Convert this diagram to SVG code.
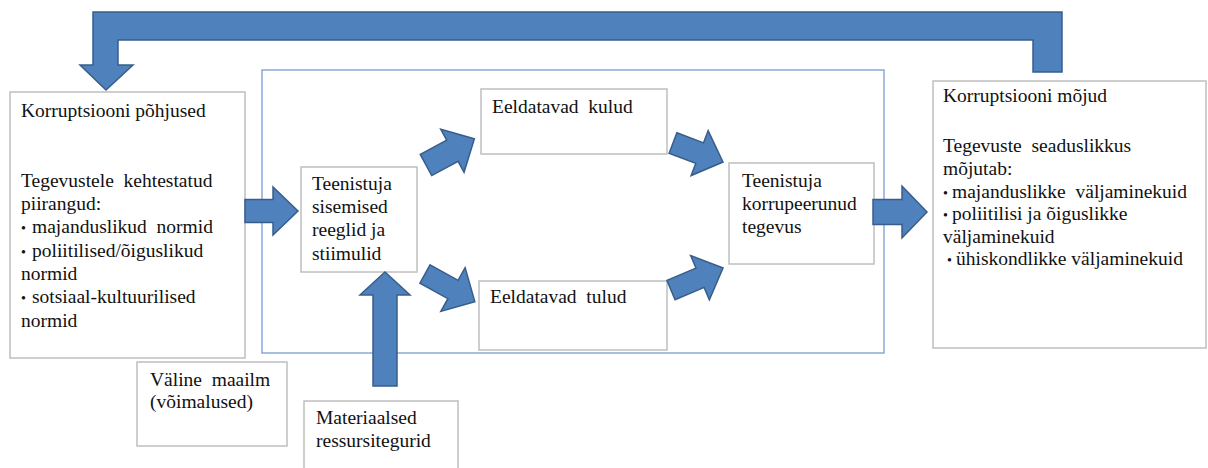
<svg xmlns="http://www.w3.org/2000/svg" width="1208" height="468" viewBox="0 0 1208 468">
<style>
.box{fill:#fff;stroke:#bfbfbf;stroke-width:1.5}
.frame{fill:none;stroke:#7a9bcf;stroke-width:1.3}
.arr{fill:#4f81bd;stroke:#385d8a;stroke-width:1.5;stroke-linejoin:miter}
.t{font-family:'Liberation Serif','Times New Roman',serif;font-size:19.5px;fill:#111;white-space:pre}
.b{font-size:14px}
</style>
<rect x="0" y="0" width="1208" height="468" fill="#fff"/>
<rect class="frame" x="262" y="70" width="622" height="283"/>

<g id="n-pohjused">
<rect class="box" x="10" y="92" width="235" height="266"/>
<text class="t" x="21" y="117">Korruptsiooni põhjused</text>
<text class="t" x="21" y="187">Tegevustele  kehtestatud</text>
<text class="t" x="21" y="210">piirangud:</text>
<text class="t" x="21" y="233"><tspan class="b">•</tspan><tspan x="32">majanduslikud  normid</tspan></text>
<text class="t" x="21" y="257"><tspan class="b">•</tspan><tspan x="32">poliitilised/õiguslikud</tspan></text>
<text class="t" x="21" y="280">normid</text>
<text class="t" x="21" y="303"><tspan class="b">•</tspan><tspan x="32">sotsiaal-kultuurilised</tspan></text>
<text class="t" x="21" y="327">normid</text>
</g>

<g id="n-sisemised">
<rect class="box" x="301" y="167" width="116" height="105"/>
<text class="t" x="312" y="190">Teenistuja</text>
<text class="t" x="312" y="213">sisemised</text>
<text class="t" x="312" y="236">reeglid ja</text>
<text class="t" x="312" y="260">stiimulid</text>
</g>

<g id="n-kulud">
<rect class="box" x="481" y="89" width="186" height="65"/>
<text class="t" x="492" y="113">Eeldatavad  kulud</text>
</g>

<g id="n-tulud">
<rect class="box" x="479" y="281" width="188" height="69"/>
<text class="t" x="490" y="303">Eeldatavad  tulud</text>
</g>

<g id="n-korrupeerunud">
<rect class="box" x="729" y="163" width="145" height="101"/>
<text class="t" x="742" y="187">Teenistuja</text>
<text class="t" x="742" y="210">korrupeerunud</text>
<text class="t" x="742" y="233">tegevus</text>
</g>

<g id="n-mojud">
<rect class="box" x="933" y="81" width="273" height="267"/>
<text class="t" x="943" y="102">Korruptsiooni mõjud</text>
<text class="t" x="943" y="152">Tegevuste  seaduslikkus</text>
<text class="t" x="943" y="175">mõjutab:</text>
<text class="t" x="943" y="198"><tspan class="b">•</tspan><tspan x="952">majanduslikke  väljaminekuid</tspan></text>
<text class="t" x="943" y="220"><tspan class="b">•</tspan><tspan x="952">poliitilisi ja õiguslikke</tspan></text>
<text class="t" x="943" y="243">väljaminekuid</text>
<text class="t" x="947" y="265"><tspan class="b">•</tspan><tspan x="956">ühiskondlikke väljaminekuid</tspan></text>
</g>

<g id="n-valine">
<rect class="box" x="137" y="362" width="150" height="84"/>
<text class="t" x="150" y="386">Väline  maailm</text>
<text class="t" x="150" y="408">(võimalused)</text>
</g>

<g id="n-materiaalsed">
<rect class="box" x="304" y="401" width="154" height="72"/>
<text class="t" x="316" y="424">Materiaalsed</text>
<text class="t" x="316" y="447">ressursitegurid</text>
</g>

<g id="connectors">
<path class="arr" d="M1062,72 L1062,12 L93,12 L93,65 L80,65 L106,90 L133,65 L118,65 L118,40 L1033,40 L1033,72 Z"/>
<path class="arr" transform="translate(245,211)" d="M0,-11.5 L28,-11.5 L28,-24 L53,0 L28,24 L28,11.5 L0,11.5 Z"/>
<path class="arr" transform="translate(873,212)" d="M0,-12.5 L29,-12.5 L29,-26 L54,0 L29,26 L29,12.5 L0,12.5 Z"/>
<path class="arr" transform="translate(385,386) rotate(-90)" d="M0,-12 L91,-12 L91,-25 L114,0 L91,25 L91,12 L0,12 Z"/>
<path class="arr" transform="translate(426,165) rotate(-28.4)" d="M0,-12 L30,-12 L30,-24.5 L55,0 L30,24.5 L30,12 L0,12 Z"/>
<path class="arr" transform="translate(425,274) rotate(29)" d="M0,-10.5 L32,-10.5 L32,-25 L57,0 L32,25 L32,10.5 L0,10.5 Z"/>
<path class="arr" transform="translate(673,143) rotate(20.8)" d="M0,-11 L28.5,-11 L28.5,-24 L53.5,0 L28.5,24 L28.5,11 L0,11 Z"/>
<path class="arr" transform="translate(671,290) rotate(-22.9)" d="M0,-10.5 L31.5,-10.5 L31.5,-24 L56.5,0 L31.5,24 L31.5,10.5 L0,10.5 Z"/>
</g>
</svg>
